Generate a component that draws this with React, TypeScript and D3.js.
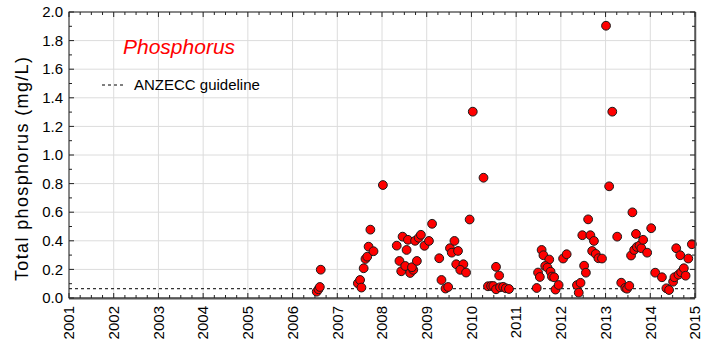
import React from "react";
import * as d3 from "d3";

const sampleTimes: number[] = [
  2006.54, 2006.58, 2006.61, 2006.63, 2007.46, 2007.51, 2007.54, 2007.59, 2007.63, 2007.67,
  2007.70, 2007.81, 2007.74, 2008.02, 2008.33, 2008.46, 2008.58, 2008.55, 2008.39, 2008.43,
  2008.52, 2008.63, 2008.70, 2008.67, 2008.78, 2008.74, 2008.82, 2008.87, 2008.95, 2009.05,
  2009.12, 2009.28, 2009.33, 2009.42, 2009.48, 2009.52, 2009.62, 2009.56, 2009.70, 2009.66,
  2009.82, 2009.75, 2009.88, 2009.96, 2010.03, 2010.27, 2010.37, 2010.44, 2010.49, 2010.55,
  2010.55, 2010.62, 2010.64, 2010.71, 2010.77, 2010.84, 2011.46, 2011.49, 2011.53, 2011.57,
  2011.61, 2011.74, 2011.65, 2011.70, 2011.77, 2011.80, 2011.85, 2011.88, 2011.95, 2012.05,
  2012.13, 2012.36, 2012.44, 2012.40, 2012.52, 2012.56, 2012.48, 2012.61, 2012.66, 2012.74,
  2012.70, 2012.78, 2012.84, 2012.92, 2013.01, 2013.15, 2013.08, 2013.26, 2013.35, 2013.44,
  2013.48, 2013.53, 2013.60, 2013.57, 2013.64, 2013.68, 2013.70, 2013.76, 2013.80, 2013.84,
  2013.93, 2014.02, 2014.11, 2014.26, 2014.36, 2014.42, 2014.51, 2014.54, 2014.63, 2014.69,
  2014.75, 2014.79, 2014.58, 2014.67, 2014.85, 2014.93,
];

const phosphorus: number[] = [
  0.044, 0.061, 0.077, 0.198, 0.103, 0.126, 0.073, 0.208, 0.273, 0.289,
  0.359, 0.327, 0.478, 0.790, 0.366, 0.429, 0.407, 0.336, 0.259, 0.187,
  0.224, 0.175, 0.197, 0.215, 0.259, 0.400, 0.421, 0.442, 0.365, 0.399,
  0.519, 0.278, 0.126, 0.066, 0.077, 0.348, 0.399, 0.317, 0.329, 0.236,
  0.236, 0.197, 0.178, 0.549, 1.303, 0.841, 0.082, 0.084, 0.084, 0.061,
  0.218, 0.157, 0.075, 0.078, 0.068, 0.063, 0.070, 0.178, 0.147, 0.336,
  0.299, 0.269, 0.224, 0.213, 0.184, 0.150, 0.145, 0.059, 0.091, 0.276,
  0.306, 0.090, 0.106, 0.037, 0.226, 0.177, 0.439, 0.550, 0.439, 0.399,
  0.329, 0.308, 0.278, 0.276, 1.904, 1.303, 0.781, 0.429, 0.107, 0.071,
  0.065, 0.085, 0.599, 0.297, 0.336, 0.448, 0.357, 0.367, 0.348, 0.407,
  0.317, 0.488, 0.177, 0.145, 0.068, 0.056, 0.114, 0.145, 0.163, 0.180,
  0.208, 0.156, 0.348, 0.299, 0.276, 0.376,
];

const yearTicks: number[] = d3.range(2001, 2016);
const valueTicks: number[] = [0, 0.2, 0.4, 0.6, 0.8, 1.0, 1.2, 1.4, 1.6, 1.8, 2.0];
const guideline = 0.065;
const chartTitle = "Phosphorus";
const legendLabel = "ANZECC guideline";
const yTitle = "Total phosphorus (mg/L)";

const W = 710;
const H = 347;
const m = { left: 69, right: 695, top: 12, bottom: 298 };
const FONT = "'Liberation Sans', Arial, sans-serif";

export default function App() {
  const x = d3.scaleLinear().domain([2001, 2015]).range([m.left, m.right]);
  const y = d3.scaleLinear().domain([0, 2]).range([m.bottom, m.top]);

  const xMinor = d3.range(2001, 2015.001, 0.25).filter((v) => Math.abs(v - Math.round(v)) > 1e-6);
  const yMinor = d3.range(0.1, 2, 0.2);

  return (
    <div style={{ position: "absolute", left: 0, top: 0 }}>
      <svg width={W} height={H} style={{ display: "block", background: "#fff" }}>
        {yearTicks.map((t) => (
          <line key={"gx" + t} x1={x(t)} x2={x(t)} y1={m.top} y2={m.bottom} stroke="#dcdcdc" strokeWidth={1} />
        ))}
        {valueTicks.map((v) => (
          <line key={"gy" + v} x1={m.left} x2={m.right} y1={y(v)} y2={y(v)} stroke="#dcdcdc" strokeWidth={1} />
        ))}

        <line x1={m.left} x2={m.right} y1={y(guideline)} y2={y(guideline)} stroke="#000" strokeWidth={1} strokeDasharray="3,3" />

        {sampleTimes.map((t, i) => (
          <circle key={"p" + i} cx={x(t)} cy={y(phosphorus[i])} r={4.4} fill="#ff0000" stroke="#1a1a1a" strokeWidth={1} />
        ))}

        <rect x={m.left} y={m.top} width={m.right - m.left} height={m.bottom - m.top} fill="none" stroke="#222" strokeWidth={1} />
        <line x1={m.left} x2={m.right} y1={m.bottom + 0.5} y2={m.bottom + 0.5} stroke="#555" strokeWidth={2} />
        <line x1={m.right + 0.5} x2={m.right + 0.5} y1={m.top} y2={m.bottom} stroke="#555" strokeWidth={1.5} />

        {yearTicks.map((t) => (
          <g key={"tx" + t}>
            <line x1={x(t)} x2={x(t)} y1={m.bottom} y2={m.bottom - 5} stroke="#222" />
            <line x1={x(t)} x2={x(t)} y1={m.top} y2={m.top + 5} stroke="#222" />
          </g>
        ))}
        {xMinor.map((t) => (
          <g key={"mx" + t}>
            <line x1={x(t)} x2={x(t)} y1={m.bottom} y2={m.bottom - 3} stroke="#222" />
            <line x1={x(t)} x2={x(t)} y1={m.top} y2={m.top + 3} stroke="#222" />
          </g>
        ))}
        {valueTicks.map((v) => (
          <g key={"ty" + v}>
            <line x1={m.left} x2={m.left + 5} y1={y(v)} y2={y(v)} stroke="#222" />
            <line x1={m.right} x2={m.right - 5} y1={y(v)} y2={y(v)} stroke="#222" />
          </g>
        ))}
        {yMinor.map((v) => (
          <g key={"my" + v}>
            <line x1={m.left} x2={m.left + 3} y1={y(v)} y2={y(v)} stroke="#222" />
            <line x1={m.right} x2={m.right - 3} y1={y(v)} y2={y(v)} stroke="#222" />
          </g>
        ))}

        {valueTicks.map((v) => (
          <text key={"ly" + v} x={m.left - 6} y={y(v)} dy="0.35em" textAnchor="end" fontFamily={FONT} fontSize={15} fill="#000">
            {d3.format(".1f")(v)}
          </text>
        ))}
        {yearTicks.map((t) => (
          <text
            key={"lx" + t}
            transform={`translate(${x(t)},${m.bottom + 8}) rotate(-90)`}
            dy="0.35em"
            textAnchor="end"
            fontFamily={FONT}
            fontSize={15}
            fill="#000"
          >
            {t}
          </text>
        ))}

        <text
          transform={`translate(28,${(m.top + m.bottom) / 2 + 14}) rotate(-90)`}
          textAnchor="middle"
          fontFamily={FONT}
          fontSize={18}
          textLength={224}
          lengthAdjust="spacing"
          fill="#000"
        >
          {yTitle}
        </text>

        <text x={123} y={54} fontFamily={FONT} fontSize={21} fontStyle="italic" fill="#ff0000">
          {chartTitle}
        </text>

        <line x1={102} x2={126} y1={85} y2={85} stroke="#000" strokeWidth={1} strokeDasharray="3,3" />
        <text x={134} y={90} fontFamily={FONT} fontSize={15} fill="#000">
          {legendLabel}
        </text>
      </svg>
    </div>
  );
}
